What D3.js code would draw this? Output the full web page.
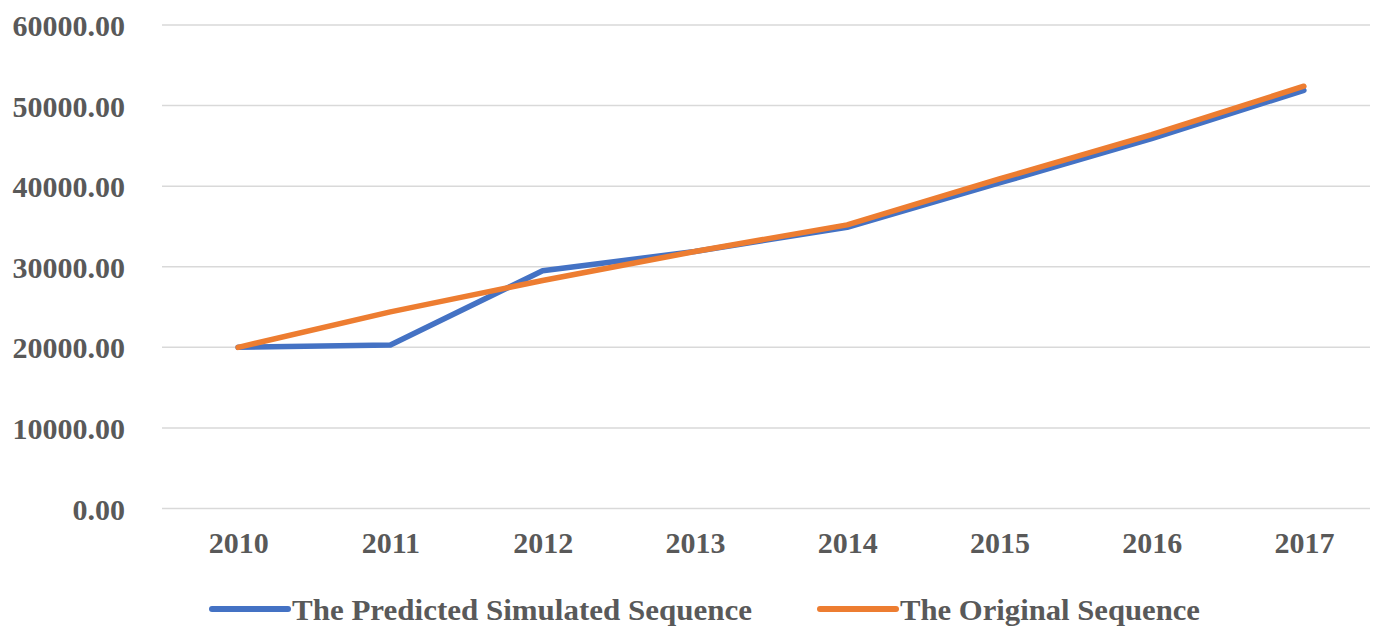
<!DOCTYPE html>
<html>
<head>
<meta charset="utf-8">
<script src="https://cdn.jsdelivr.net/npm/d3@7"></script>
<style>
  body { margin: 0; background: #fff; }
  svg text { font-family: "Liberation Serif", "Times New Roman", serif; font-weight: bold; fill: #595959; }
</style>
</head>
<body>
<svg id="chart" width="1388" height="631"></svg>
<script>
const years = ['2010', '2011', '2012', '2013', '2014', '2015', '2016', '2017'];
const predicted = [20000, 20300, 29500, 31900, 34900, 40400, 45900, 51900];
const original = [20000, 24400, 28300, 31900, 35200, 40900, 46400, 52400];
const yTicks = [0, 10000, 20000, 30000, 40000, 50000, 60000];
const seriesNames = ['The Predicted Simulated Sequence', 'The Original Sequence'];
const seriesColors = ['#4472c4', '#ed7d31'];

const width = 1388, height = 631;
const plot = { left: 162, right: 1380, top: 25, bottom: 508.5 };

const svg = d3.select('#chart');

const x = d3.scalePoint(years, [plot.left, plot.right]).padding(0.5);
const y = d3.scaleLinear([0, 60000], [plot.bottom, plot.top]);

// gridlines
svg.append('g')
   .selectAll('line')
   .data(yTicks)
   .join('line')
   .attr('x1', plot.left)
   .attr('x2', plot.right - 10)
   .attr('y1', d => y(d))
   .attr('y2', d => y(d))
   .attr('stroke', '#d9d9d9')
   .attr('stroke-width', 1.5);

// y axis labels
let yAxis = d3.axisLeft(y).tickValues(yTicks).tickFormat(d3.format('.2f')).tickSize(0).tickPadding(0);
let yg = svg.append('g')
            .attr('transform', 'translate(125,0)')
            .call(yAxis);
yg.select('.domain').remove();
yg.selectAll('text')
  .attr('font-size', 30)
  .attr('dy', '0.35em')
  .style('font-family', null);

// x axis labels
let xAxis = d3.axisBottom(x).tickSize(0).tickPadding(0);
let xg = svg.append('g')
            .attr('transform', `translate(0,${plot.bottom + 26})`)
            .call(xAxis);
xg.select('.domain').remove();
xg.selectAll('text')
  .attr('font-size', 30)
  .attr('dy', '0.6em')
  .style('font-family', null);

// lines
const line = d3.line()
               .x((d, i) => x(years[i]))
               .y(d => y(d));

[predicted, original].forEach((s, i) => {
  svg.append('path')
     .datum(s)
     .attr('fill', 'none')
     .attr('stroke', seriesColors[i])
     .attr('stroke-width', 5.5)
     .attr('stroke-linejoin', 'round')
     .attr('stroke-linecap', 'round')
     .attr('d', line);
});

// legend
const legendX = [212, 820];
const legendLen = [460, 300];
const legendY = 609;
seriesNames.forEach((name, i) => {
  svg.append('line')
     .attr('x1', legendX[i])
     .attr('x2', legendX[i] + 76)
     .attr('y1', legendY)
     .attr('y2', legendY)
     .attr('stroke', seriesColors[i])
     .attr('stroke-width', 6)
     .attr('stroke-linecap', 'round');
  svg.append('text')
     .attr('x', legendX[i] + 80)
     .attr('y', legendY)
     .attr('dy', '0.35em')
     .attr('font-size', 30)
     .attr('textLength', legendLen[i])
     .attr('lengthAdjust', 'spacingAndGlyphs')
     .text(name);
});
</script>
</body>
</html>
